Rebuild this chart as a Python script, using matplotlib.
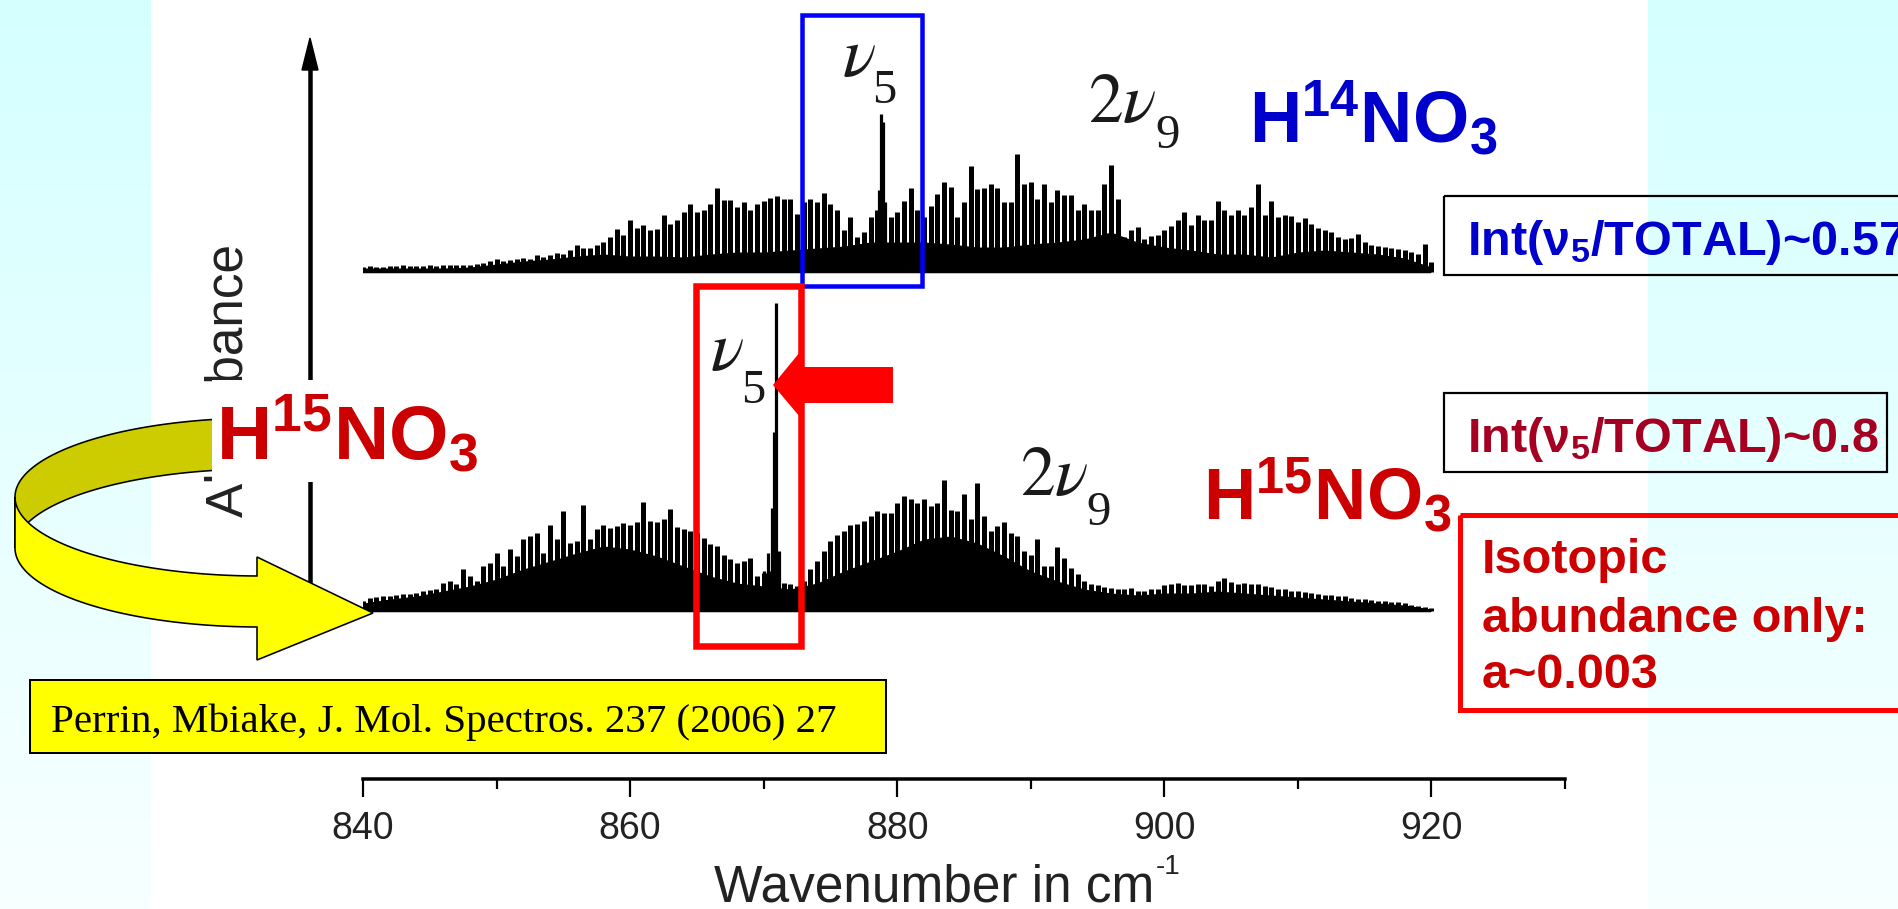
import numpy as np
import matplotlib
matplotlib.use('Agg')
import matplotlib.pyplot as plt
from matplotlib.patches import Rectangle, Polygon
from matplotlib import font_manager

# ---------------- data (arbitrary absorbance units) ----------------
line_start, line_step = 840.0, 0.5          # resolved-line grid, cm-1
h14_lines = [5, 6, 5, 5, 6, 6, 7, 6, 6, 6,
             7, 6, 7, 7, 7, 7, 7, 8, 9, 11,
             13, 11, 12, 13, 14, 13, 17, 15, 17, 19,
             18, 22, 27, 24, 24, 27, 30, 35, 43, 37,
             52, 44, 47, 42, 43, 57, 48, 52, 60, 68,
             60, 62, 68, 84, 72, 72, 65, 70, 62, 68,
             71, 74, 76, 73, 73, 58, 70, 73, 70, 79,
             68, 62, 42, 55, 35, 40, 55, 62, 45, 55,
             60, 71, 84, 62, 55, 66, 78, 90, 85, 55,
             70, 106, 83, 84, 88, 84, 70, 70, 118, 88,
             90, 73, 88, 70, 82, 77, 77, 62, 68, 62,
             62, 88, 107, 73, 35, 42, 45, 33, 36, 37,
             42, 46, 52, 60, 47, 57, 52, 52, 71, 62,
             57, 62, 57, 65, 88, 57, 71, 55, 57, 56,
             50, 54, 48, 44, 42, 40, 35, 33, 34, 38,
             30, 27, 26, 25, 24, 23, 22, 20, 18, 28,
             10]
h15_lines = [10, 13, 14, 15, 15, 16, 17, 17, 18, 20,
             21, 22, 28, 30, 27, 42, 35, 30, 45, 48,
             58, 45, 62, 55, 72, 75, 78, 58, 86, 72,
             100, 68, 70, 106, 72, 82, 86, 83, 85, 88,
             86, 89, 109, 90, 89, 92, 102, 84, 82, 80,
             78, 73, 67, 65, 56, 52, 48, 50, 53, 35,
             38, 40, 30, 28, 27, 25, 30, 42, 50, 60,
             70, 76, 80, 86, 87, 90, 95, 100, 98, 98,
             108, 115, 112, 108, 112, 105, 108, 131, 101, 100,
             117, 92, 128, 95, 80, 85, 89, 78, 75, 60,
             56, 72, 45, 45, 64, 53, 43, 37, 30, 27,
             26, 24, 23, 22, 22, 23, 20, 20, 22, 22,
             26, 27, 28, 26, 26, 27, 27, 25, 30, 33,
             29, 27, 28, 27, 27, 25, 24, 22, 22, 20,
             20, 19, 18, 17, 16, 16, 15, 15, 13, 12,
             12, 11, 10, 10, 9, 9, 8, 6, 5, 4,
             3]
floor_start, floor_step = 840.0, 2.0        # unresolved continuum grid, cm-1
h14_floor = [4, 4, 4, 4, 5, 8, 11, 13, 16, 18,
             16, 16, 15, 18, 20, 20, 22, 24, 26, 30,
             30, 30, 28, 25, 25, 28, 30, 33, 40, 30,
             25, 22, 18, 18, 15, 20, 22, 20, 18, 14,
             5]
h15_floor = [8, 12, 15, 20, 25, 32, 42, 50, 58, 65,
             62, 55, 45, 35, 28, 25, 22, 28, 40, 50,
             60, 72, 75, 68, 55, 40, 30, 22, 18, 16,
             18, 18, 20, 18, 16, 14, 12, 10, 8, 6,
             2]
h14_q_pos = [878.6, 878.75, 878.9, 879.1]     # nu5 Q branch H14NO3
h14_q_int = [82, 158, 150, 70]
h15_q_pos = [870.05, 870.35, 870.6, 870.8, 870.95, 871.15]   # nu5 Q branch H15NO3
h15_q_int = [40, 58, 103, 179, 308, 60]
xticks_major = [840, 860, 880, 900, 920]
xticks_minor = [850, 870, 890, 910, 930]
xtick_labels = ['840', '860', '880', '900', '920']

# ---------------- fonts ----------------
def has_font(name):
    try:
        font_manager.findfont(font_manager.FontProperties(family=name), fallback_to_default=False)
        return True
    except Exception:
        return False

SANS = 'Liberation Sans'
NARROW = 'Liberation Sans Narrow' if has_font('Liberation Sans Narrow') else SANS
plt.rcParams['font.family'] = [SANS, 'DejaVu Sans']
plt.rcParams['mathtext.fontset'] = 'custom'
plt.rcParams['mathtext.rm'] = 'Liberation Sans:bold'
plt.rcParams['mathtext.bf'] = 'Liberation Sans:bold'
plt.rcParams['mathtext.it'] = 'Liberation Sans:italic:bold'
plt.rcParams['mathtext.sf'] = 'Liberation Sans:bold'

W, H = 1899, 909
PX = 0.72  # points per pixel at dpi 100
fig = plt.figure(figsize=(W / 100, H / 100), dpi=100)

# ---------------- background ----------------
bg = fig.add_axes([0, 0, 1, 1], zorder=-2)
grad = np.linspace(0.835, 0.97, 256)
img = np.stack([grad, np.ones_like(grad), np.ones_like(grad)], axis=-1)[:, None, :]
bg.imshow(img, extent=[0, W, H, 0], aspect='auto')
bg.add_patch(Rectangle((151, 0), 1648 - 151, H, facecolor='white', edgecolor='none'))
bg.set_xlim(0, W); bg.set_ylim(H, 0); bg.axis('off')

# ---------------- spectra axes ----------------
X0, X1, YAX = 363, 1565, 779
ax = fig.add_axes([X0 / W, (H - YAX) / H, (X1 - X0) / W, YAX / H], zorder=0)
ax.patch.set_visible(False)
ax.set_xlim(840, 930)
ax.set_ylim(0, YAX)
top_base = YAX - 272
bot_base = YAX - 611


def draw_spectrum(lines, floor, qpos, qint, base):
    xl = line_start + line_step * np.arange(len(lines))
    xf = floor_start + floor_step * np.arange(len(floor))
    ax.fill_between(xf, base, base + np.asarray(floor, float), color='k', lw=0)
    ax.vlines(xl, base, base + np.asarray(lines, float), color='k', lw=5.0 * PX)
    ax.vlines(qpos, base, base + np.asarray(qint, float), color='k', lw=3.2 * PX)
    ax.plot([xl[0], xl[-1]], [base, base], color='k', lw=2.5 * PX, solid_capstyle='butt')


draw_spectrum(h14_lines, h14_floor, h14_q_pos, h14_q_int, top_base)
draw_spectrum(h15_lines, h15_floor, h15_q_pos, h15_q_int, bot_base)

for s in ['top', 'right', 'left']:
    ax.spines[s].set_visible(False)
ax.spines['bottom'].set_linewidth(3.5 * PX)
ax.set_yticks([])
ax.set_xticks(xticks_major)
ax.set_xticklabels(xtick_labels, fontsize=27, family=NARROW, color='#222222')
ax.set_xticks(xticks_minor, minor=True)
ax.tick_params(axis='x', which='major', length=18 * PX, width=2.2 * PX, direction='out', pad=10)
ax.tick_params(axis='x', which='minor', length=10 * PX, width=2.2 * PX, direction='out')

# ---------------- overlay (pixel coordinates) ----------------
ov = fig.add_axes([0, 0, 1, 1], zorder=5)
ov.set_xlim(0, W); ov.set_ylim(H, 0); ov.axis('off')
ov.patch.set_visible(False)

# y axis arrow
ov.plot([310, 310], [611, 62], color='k', lw=4.5 * PX, zorder=1, solid_capstyle='butt')
ov.add_patch(Polygon([(302, 70), (310, 38), (318, 70)], closed=True, facecolor='k', edgecolor='k', lw=1, zorder=1))
ov.text(229, 380, 'Absorbance', rotation=90, ha='center', va='center', fontsize=37,
        family=SANS, color='#222222', zorder=1)

# x label (with small raised "-1")
xl_txt = ov.text(714, 902, 'Wavenumber in cm', ha='left', va='baseline', fontsize=37,
                 family=SANS, color='#222222')
fig.canvas.draw()
bb = xl_txt.get_window_extent(renderer=fig.canvas.get_renderer())
ov.text(bb.x1 + 2, 874, '-1', ha='left', va='baseline', fontsize=20, family=SANS, color='#222222')

# curved yellow 3-D arrow (two offset ellipses)
cx, a, b = 260.0, 245.0, 79.0
cy1, cy2 = 497.0, 548.0
ph_up = np.radians(np.linspace(180, 80, 60))
back = [(cx + a * np.cos(p), cy1 - b * np.sin(p)) for p in ph_up] + \
       [(cx + a * np.cos(p), cy2 - b * np.sin(p)) for p in ph_up[::-1]]
ov.add_patch(Polygon(back, closed=True, facecolor='#CCCC00', edgecolor='k', lw=1.6 * PX, zorder=2))
ph_lo = np.radians(np.linspace(180, 90.7, 80))
front = [(cx + a * np.cos(p), cy1 + b * np.sin(p)) for p in ph_lo]
front += [(257, 557), (373, 613), (257, 660)]
front += [(cx + a * np.cos(p), cy2 + b * np.sin(p)) for p in ph_lo[::-1]]
ov.add_patch(Polygon(front, closed=True, facecolor='#FFFF00', edgecolor='k', lw=1.6 * PX, zorder=5))

# white label box with left H15NO3
ov.add_patch(Rectangle((212, 380), 490 - 212, 482 - 380, facecolor='white', edgecolor='none', zorder=3))
ov.text(216, 460, r'H$^{15}$NO$_{3}$', ha='left', va='baseline', fontsize=55, fontweight='bold',
        color='#CC0000', zorder=4)

# boxes around nu5
ov.add_patch(Rectangle((802, 14.5), 922 - 802, 286 - 14.5, facecolor='none', edgecolor='#0000FF',
                       lw=4.5 * PX, zorder=6))
ov.add_patch(Rectangle((696, 286), 801 - 696, 646 - 286, facecolor='none', edgecolor='#FF0000',
                       lw=6.5 * PX, zorder=6))
ov.add_patch(Polygon([(773, 385), (800, 352), (800, 367), (893, 367), (893, 403), (800, 403), (800, 417)],
                     closed=True, facecolor='#FF0000', edgecolor='none', zorder=6))

# band labels (Times-like, large subscripts)
LBL = '#1a1a1a'
for xnu, ybase, x5, y5, digit in [(842, 76, 872, 103, '5'), (710, 370, 741, 403, '5')]:
    ov.text(xnu, ybase, r'$\nu$', ha='left', va='baseline', fontsize=50, math_fontfamily='stix', color=LBL)
    ov.text(x5, y5, digit, ha='left', va='baseline', fontsize=35, family='Liberation Serif', color=LBL)
for x2, ybase, x9, y9 in [(1088, 122, 1155, 148), (1020, 495, 1086, 525)]:
    ov.text(x2, ybase, r'$2\nu$', ha='left', va='baseline', fontsize=50, math_fontfamily='stix', color=LBL)
    ov.text(x9, y9, '9', ha='left', va='baseline', fontsize=35, family='Liberation Serif', color=LBL)

# isotopologue labels
ov.text(1249, 143, r'H$^{14}$NO$_{3}$', ha='left', va='baseline', fontsize=52, fontweight='bold',
        color='#0000CC', zorder=7)
ov.text(1203, 520, r'H$^{15}$NO$_{3}$', ha='left', va='baseline', fontsize=52, fontweight='bold',
        color='#CC0000', zorder=7)

# intensity ratio boxes
ov.add_patch(Rectangle((1444, 196), 1910 - 1444, 275 - 196, facecolor='none', edgecolor='k',
                       lw=2.2 * PX, zorder=6))
ov.text(1467, 255, r'Int(ν$_{5}$/TOTAL)~0.57', ha='left', va='baseline', fontsize=35,
        fontweight='bold', color='#0000CC', zorder=7)
ov.add_patch(Rectangle((1444, 393), 1887 - 1444, 472 - 393, facecolor='none', edgecolor='k',
                       lw=2.2 * PX, zorder=6))
ov.text(1467, 452, r'Int(ν$_{5}$/TOTAL)~0.8', ha='left', va='baseline', fontsize=35,
        fontweight='bold', color='#A50021', zorder=7)

# isotopic abundance box
ov.add_patch(Rectangle((1460, 515), 1920 - 1460, 710 - 515, facecolor='none', edgecolor='#FF0000',
                       lw=5 * PX, zorder=6))
for txt, yb in [('Isotopic', 573), ('abundance only:', 632), ('a~0.003', 688)]:
    ov.text(1482, yb, txt, ha='left', va='baseline', fontsize=35, fontweight='bold',
            color='#CC0000', zorder=7)

# citation
ov.add_patch(Rectangle((30, 680), 886 - 30, 753 - 680, facecolor='#FFFF00', edgecolor='k',
                       lw=2 * PX, zorder=6))
ov.text(51, 732, 'Perrin, Mbiake, J. Mol. Spectros. 237 (2006) 27', ha='left', va='baseline',
        fontsize=29.5, family='Liberation Serif', color='k', zorder=7)

fig.savefig('out.png', dpi=100)
